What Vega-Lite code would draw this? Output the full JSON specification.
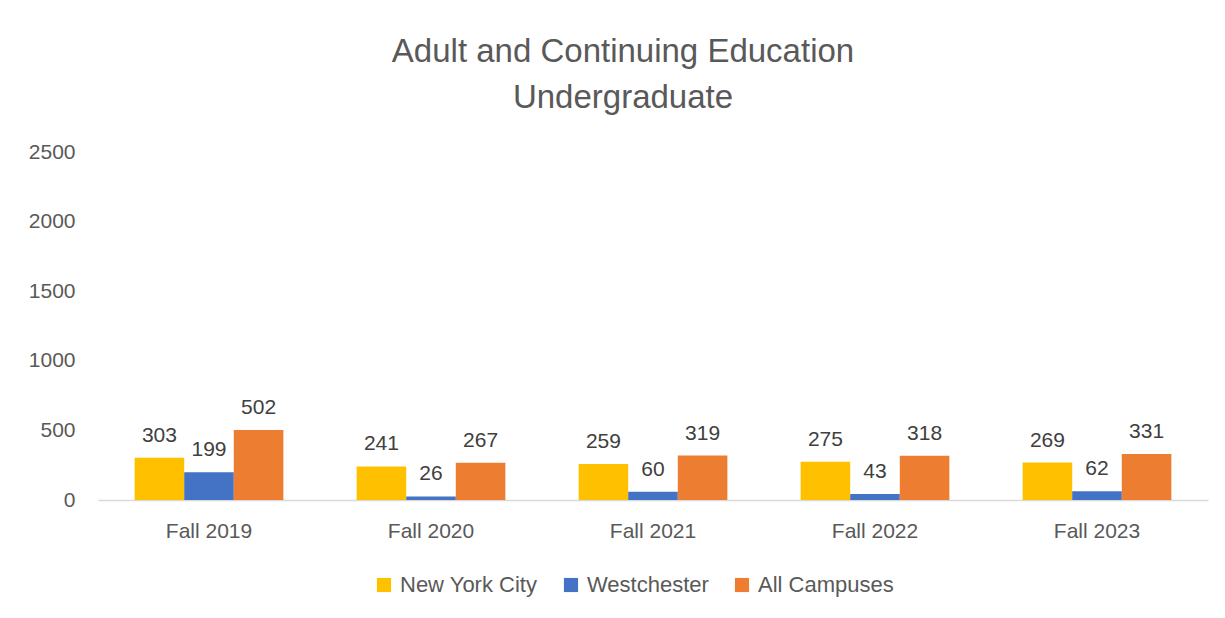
{
  "$schema": "https://vega.github.io/schema/vega-lite/v6.json",
  "autosize": {"type": "none"},
  "width": 1110,
  "height": 348,
  "padding": {"left": 98, "top": 152, "right": 17, "bottom": 118},
  "background": "white",
  "title": {
    "text": ["Adult and Continuing Education", "Undergraduate"],
    "fontSize": 33,
    "font": "Liberation Sans",
    "fontWeight": "normal",
    "color": "#595959",
    "lineHeight": 46,
    "anchor": "middle",
    "dx": -30,
    "offset": 26
  },
  "data": {
    "values": [
      {"term": "Fall 2019", "campus": "New York City", "count": 303},
      {"term": "Fall 2019", "campus": "Westchester", "count": 199},
      {"term": "Fall 2019", "campus": "All Campuses", "count": 502},
      {"term": "Fall 2020", "campus": "New York City", "count": 241},
      {"term": "Fall 2020", "campus": "Westchester", "count": 26},
      {"term": "Fall 2020", "campus": "All Campuses", "count": 267},
      {"term": "Fall 2021", "campus": "New York City", "count": 259},
      {"term": "Fall 2021", "campus": "Westchester", "count": 60},
      {"term": "Fall 2021", "campus": "All Campuses", "count": 319},
      {"term": "Fall 2022", "campus": "New York City", "count": 275},
      {"term": "Fall 2022", "campus": "Westchester", "count": 43},
      {"term": "Fall 2022", "campus": "All Campuses", "count": 318},
      {"term": "Fall 2023", "campus": "New York City", "count": 269},
      {"term": "Fall 2023", "campus": "Westchester", "count": 62},
      {"term": "Fall 2023", "campus": "All Campuses", "count": 331}
    ]
  },
  "encoding": {
    "x": {
      "field": "term",
      "type": "nominal",
      "title": null,
      "scale": {"paddingInner": 0.33, "paddingOuter": 0.165},
      "axis": {
        "labelAngle": 0,
        "ticks": false,
        "domainColor": "#D9D9D9",
        "domainWidth": 1.5,
        "labelPadding": 20,
        "labelFontSize": 21,
        "labelFont": "Liberation Sans",
        "labelColor": "#595959"
      }
    },
    "xOffset": {
      "field": "campus",
      "type": "nominal",
      "sort": ["New York City", "Westchester", "All Campuses"],
      "scale": {"paddingInner": 0, "paddingOuter": 0}
    },
    "y": {
      "field": "count",
      "type": "quantitative",
      "title": null,
      "scale": {"domain": [0, 2500], "nice": false},
      "axis": {
        "values": [0, 500, 1000, 1500, 2000, 2500],
        "format": "d",
        "grid": false,
        "ticks": false,
        "domain": false,
        "labelPadding": 23,
        "labelFontSize": 21,
        "labelFont": "Liberation Sans",
        "labelColor": "#595959"
      }
    }
  },
  "layer": [
    {
      "mark": {"type": "bar"},
      "encoding": {
        "color": {
          "field": "campus",
          "type": "nominal",
          "title": null,
          "sort": ["New York City", "Westchester", "All Campuses"],
          "scale": {
            "domain": ["New York City", "Westchester", "All Campuses"],
            "range": ["#FFC000", "#4472C4", "#ED7D31"]
          },
          "legend": {
            "orient": "none",
            "legendX": 275,
            "legendY": 422,
            "direction": "horizontal",
            "symbolType": "square",
            "symbolSize": 200,
            "symbolStrokeWidth": 0,
            "symbolOpacity": 1,
            "labelFontSize": 22,
            "labelFont": "Liberation Sans",
            "labelColor": "#595959",
            "labelOffset": 5,
            "columnPadding": 22
          }
        }
      }
    },
    {
      "mark": {
        "type": "text",
        "baseline": "alphabetic",
        "dy": -16,
        "fontSize": 21,
        "font": "Liberation Sans",
        "color": "#404040"
      },
      "encoding": {
        "text": {"field": "count", "type": "quantitative"}
      }
    }
  ],
  "config": {
    "view": {"stroke": null}
  }
}
